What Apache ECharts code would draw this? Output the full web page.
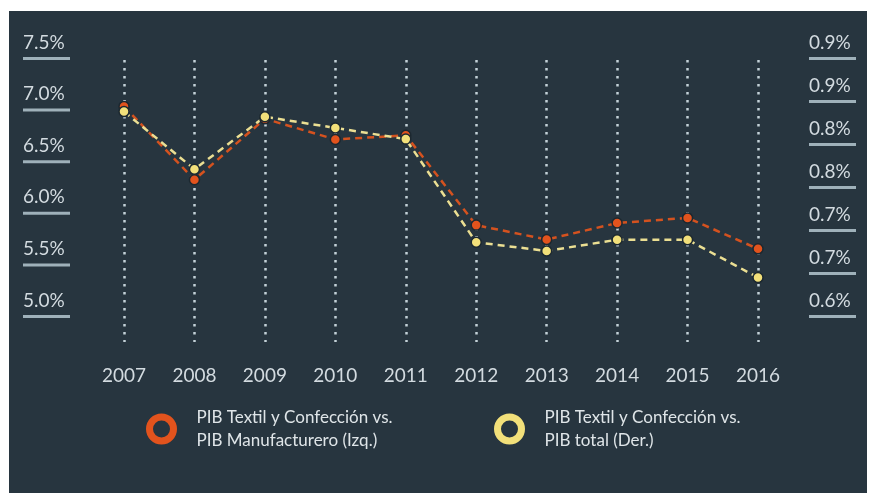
<!DOCTYPE html>
<html>
<head>
<meta charset="utf-8">
<script src="https://cdn.jsdelivr.net/npm/echarts@6/dist/echarts.min.js"></script>
<style>
  html, body { margin: 0; padding: 0; background: #ffffff; }
  #panel { position: absolute; left: 9px; top: 11px; width: 858px; height: 482px; background: #27353f; }
  #chart { position: absolute; left: 0; top: 0; width: 880px; height: 493px; }
</style>
</head>
<body>
<div id="panel"></div>
<div id="chart"></div>
<script>
const years = ['2007', '2008', '2009', '2010', '2011', '2012', '2013', '2014', '2015', '2016'];
// PIB Textil y Confección vs. PIB Manufacturero (eje izquierdo, %)
const textilVsManufacturero = [7.05, 6.34, 6.93, 6.73, 6.77, 5.90, 5.76, 5.92, 5.97, 5.67];
// PIB Textil y Confección vs. PIB total (eje derecho, %)
const textilVsTotal = [0.840, 0.773, 0.834, 0.821, 0.808, 0.688, 0.678, 0.691, 0.691, 0.647];

const leftTicks = [5.0, 5.5, 6.0, 6.5, 7.0, 7.5];
const leftTickLabels = ['5.0%', '5.5%', '6.0%', '6.5%', '7.0%', '7.5%'];
const rightTicks = [0.60, 0.65, 0.70, 0.75, 0.80, 0.85, 0.90];
const rightTickLabels = ['0.6%', '0.7%', '0.7%', '0.8%', '0.8%', '0.9%', '0.9%'];

const nameLeft = 'PIB Textil y Confección vs.\nPIB Manufacturero (Izq.)';
const nameRight = 'PIB Textil y Confección vs.\nPIB total (Der.)';

const BG = '#27353f';
const TEXT = '#d3dbe0';
const ORANGE = '#e2531d';
const YELLOW = '#f2e07a';

const pick = (ticks, labels) => (v) => {
  const i = ticks.findIndex(t => Math.abs(t - v) < 1e-6);
  return i < 0 ? '' : '{t|' + labels[i] + '}\n{u|}';
};

const labelRich = {
  t: { color: TEXT, fontFamily: 'Lato', fontSize: 19, lineHeight: 22, padding: [0, 0, 7, 0] },
  u: { width: 47, height: 3, backgroundColor: '#9fb1ba' }
};

const legendText = { color: '#dfe5e8', fontFamily: 'Lato', fontSize: 17, lineHeight: 23, padding: [0, 0, 0, 18] };

const myChart = echarts.init(document.getElementById('chart'), null, { renderer: 'canvas' });

const option = {
  backgroundColor: 'transparent',
  animation: false,
  grid: { left: 124, right: 122, top: 60, bottom: 151 },
  legend: [
    {
      left: 141, top: 401,
      icon: 'circle', itemWidth: 24, itemHeight: 24,
      data: [{ name: nameLeft, itemStyle: { color: BG, borderColor: ORANGE, borderWidth: 7 } }],
      textStyle: legendText
    },
    {
      left: 489, top: 401,
      icon: 'circle', itemWidth: 24, itemHeight: 24,
      data: [{ name: nameRight, itemStyle: { color: BG, borderColor: YELLOW, borderWidth: 7 } }],
      textStyle: legendText
    }
  ],
  xAxis: {
    type: 'category',
    boundaryGap: false,
    data: years,
    axisLine: { show: false },
    axisTick: { show: false },
    axisLabel: { interval: 0, margin: 24, color: TEXT, fontFamily: 'Lato', fontSize: 19 },
    splitLine: {
      show: true,
      interval: 0,
      lineStyle: { color: '#c3d1d8', width: 2.5, type: [2.5, 5.5] }
    }
  },
  yAxis: [
    {
      type: 'value',
      position: 'left',
      min: 7.5 - 282 / 103.2,
      max: 7.5,
      axisLine: { show: false },
      axisTick: { show: false },
      splitLine: { show: false },
      axisLabel: {
        customValues: leftTicks,
        align: 'left',
        verticalAlign: 'bottom',
        margin: 101,
        formatter: pick(leftTicks, leftTickLabels),
        rich: labelRich
      }
    },
    {
      type: 'value',
      position: 'right',
      min: 0.9 - 282 / 860,
      max: 0.9,
      axisLine: { show: false },
      axisTick: { show: false },
      splitLine: { show: false },
      axisLabel: {
        customValues: rightTicks,
        align: 'left',
        verticalAlign: 'bottom',
        margin: 51,
        formatter: pick(rightTicks, rightTickLabels),
        rich: labelRich
      }
    }
  ],
  series: [
    {
      name: nameLeft,
      type: 'line',
      yAxisIndex: 0,
      data: textilVsManufacturero,
      symbol: 'circle',
      symbolSize: 10,
      itemStyle: { color: ORANGE, borderColor: '#1c2830', borderWidth: 1.5 },
      lineStyle: { color: '#d4521f', width: 2.5, type: [7, 5] }
    },
    {
      name: nameRight,
      type: 'line',
      yAxisIndex: 1,
      data: textilVsTotal,
      symbol: 'circle',
      symbolSize: 10,
      itemStyle: { color: YELLOW, borderColor: '#1c2830', borderWidth: 1.5 },
      lineStyle: { color: '#ebdf93', width: 2.5, type: [7, 5] }
    }
  ]
};

myChart.setOption(option);
window.addEventListener('resize', () => myChart.resize());
</script>
</body>
</html>
